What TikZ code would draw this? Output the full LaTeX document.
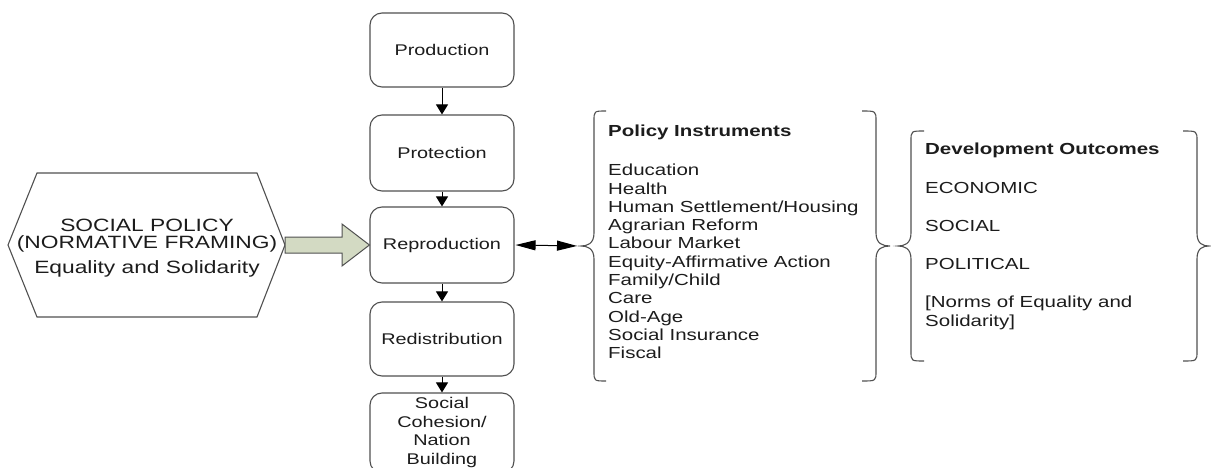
\documentclass[tikz,border=0pt]{standalone}
\usepackage{fontspec}
\setmainfont{Liberation Sans}
\newfontfamily\wf[FakeStretch=1.28]{Liberation Sans}
\usetikzlibrary{arrows.meta}
\definecolor{linec}{HTML}{505050}
\definecolor{textc}{HTML}{1C1C1C}
\definecolor{arrfill}{HTML}{D3DAC3}
\begin{document}
\begin{tikzpicture}[x=1pt,y=-1pt,
  stage/.style={draw=linec, line width=1.1pt, rounded corners=12pt, minimum width=144pt,
    fill=white, font=\wf\fontsize{15.5}{18.6}\selectfont, text=textc, align=center, inner sep=0pt},
  flow/.style={draw=black, line width=1pt, -{Triangle[width=12pt,length=10pt]}},
  link/.style={draw=black, line width=1pt, {Triangle[width=10pt,length=20pt]}-{Triangle[width=10pt,length=20pt]}},
  brc/.style={draw=linec, line width=1.1pt},
  txt/.style={font=\wf\fontsize{16}{18.3}\selectfont, text=textc, align=left, inner sep=0pt, anchor=north west},
  hex/.style={draw=linec, line width=1.1pt},
  bigarrow/.style={draw=linec, line width=1pt, fill=arrfill, line join=miter}]
\useasboundingbox (0,0) rectangle (1211,468);

% hexagon
\draw[hex] (8,245) -- (37,173) -- (257,173) -- (285,245) -- (257,317) -- (37,317) -- cycle;
\coordinate (hexR) at (285,245);
\node[font=\wf\fontsize{17.8}{17}\selectfont, text=textc, align=center, inner sep=0pt] (policy) at (147,248)
  {SOCIAL POLICY\\(NORMATIVE FRAMING)\\[8pt]Equality and Solidarity};

% stages
\node[stage, minimum height=74pt] (prod) at (442,50) {Production};
\node[stage, minimum height=76pt] (prot) at (442,153) {Protection};
\node[stage, minimum height=76pt] (repro) at (442,245) {Reproduction};
\node[stage, minimum height=74pt] (redis) at (442,339) {Redistribution};
\node[stage, minimum height=80pt] (cohes) at (442,433) {};
\node[font=\wf\fontsize{15.5}{18.7}\selectfont, text=textc, align=center, inner sep=0pt] (cohtxt) at (442,432.5)
  {Social\\Cohesion/\\Nation\\Building};

\draw[flow] (prod) -- (prot);
\draw[flow] (prot) -- (repro);
\draw[flow] (repro) -- (redis);
\draw[flow] (redis) -- (cohes);

% big arrow
\draw[bigarrow] (hexR) ++(0,-8) -- ++(57,0) -- ++(0,-13) -- (repro.west) -- (342,266) -- (342,253) -- (285,253) -- cycle;

% braces
\draw[brc] (606,111) .. controls (594,111) .. (594,121) -- (594,233) .. controls (594,244) and (587,246) .. (581,246)
  .. controls (587,246) and (594,248) .. (594,259) -- (594,371) .. controls (594,381) .. (606,381);
\coordinate (pitip) at (581,246);
\draw[brc] (862,111) .. controls (876,111) .. (876,121) -- (876,233) .. controls (876,244) and (883,246) .. (890,246)
  .. controls (883,246) and (876,248) .. (876,259) -- (876,371) .. controls (876,381) .. (862,381);
\draw[brc] (924,131) .. controls (911,131) .. (911,141) -- (911,233) .. controls (911,244) and (904,246) .. (898,246)
  .. controls (904,246) and (911,248) .. (911,259) -- (911,351) .. controls (911,361) .. (924,361);
\draw[brc] (1183,131) .. controls (1197,131) .. (1197,141) -- (1197,233) .. controls (1197,244) and (1203,246) .. (1209,246)
  .. controls (1203,246) and (1197,248) .. (1197,259) -- (1197,351) .. controls (1197,361) .. (1183,361);

\draw[link, shorten <=1pt, shorten >=4pt] (repro.east) -- (pitip);

% text blocks
\node[txt] (pititle) at (608,125) {\bfseries Policy Instruments};
\node[txt] (pilist) at (608,164)
  {Education\\Health\\Human Settlement/Housing\\Agrarian Reform\\Labour Market\\Equity-Affirmative Action\\Family/Child\\Care\\Old-Age\\Social Insurance\\Fiscal};
\node[txt] (dotitle) at (925,143) {\bfseries Development Outcomes};
\node[txt] (doeco) at (925,182) {ECONOMIC};
\node[txt] (dosoc) at (925,220) {SOCIAL};
\node[txt] (dopol) at (925,258) {POLITICAL};
\node[txt] (donorm) at (925,296) {[Norms of Equality and\\Solidarity]};
\end{tikzpicture}
\end{document}
